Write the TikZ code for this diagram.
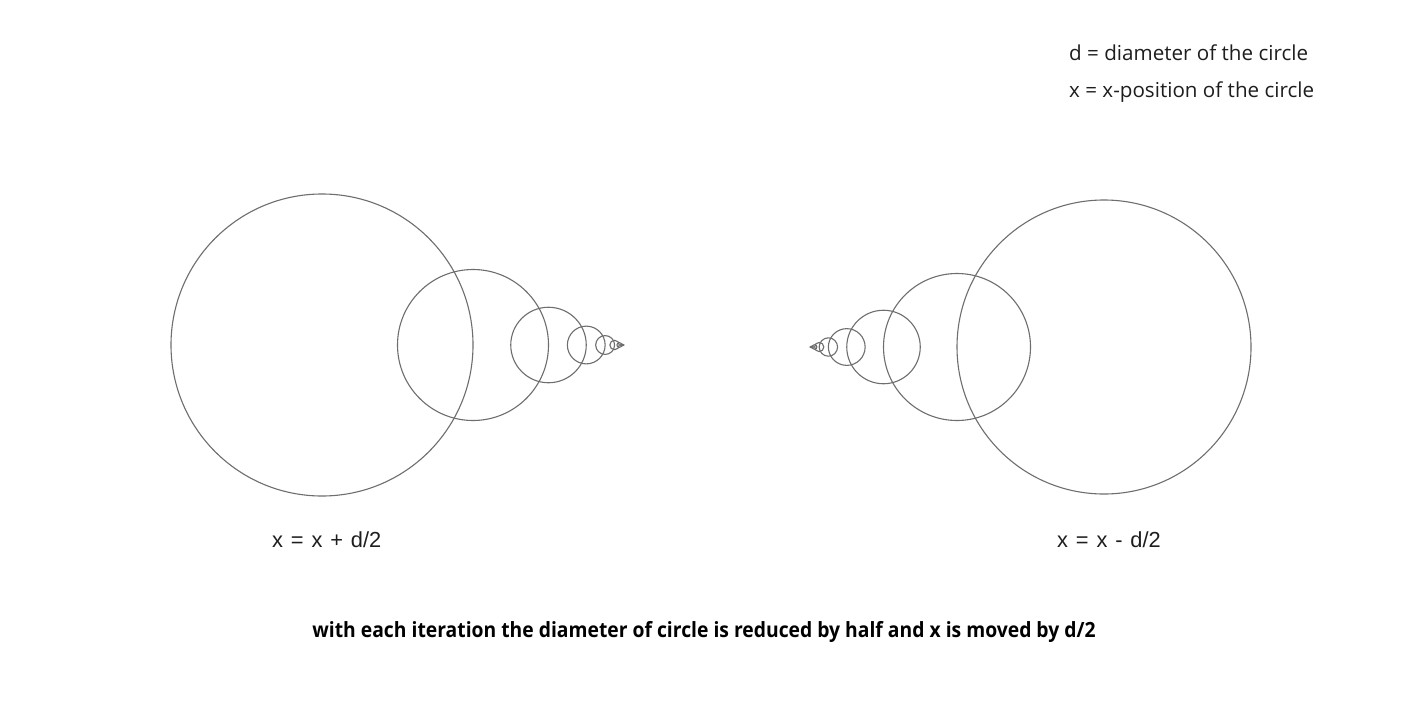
\documentclass[tikz,border=0pt]{standalone}
\usepackage{fontspec}
\setmainfont{Open Sans}
\newfontfamily\labfont[WordSpace=1.3]{Liberation Sans}
\newfontfamily\boldfont[FakeStretch=0.92]{Open Sans}
\definecolor{ringgray}{HTML}{6E6E6E}
\definecolor{inkdark}{HTML}{1E1E1E}
\tikzset{
  ring/.style={draw=ringgray, line width=1.1pt},
  legend/.style={anchor=base west, inner sep=0pt, text=inkdark, font=\fontsize{20.6}{24}\selectfont},
  formula/.style={anchor=base west, inner sep=0pt, text=inkdark, font=\labfont\fontsize{21.8}{24}\selectfont},
  caption/.style={anchor=base, inner sep=0pt, text=black, font=\boldfont\bfseries\fontsize{21}{24}\selectfont}
}
\begin{document}
\begin{tikzpicture}[x=1pt,y=-1pt]
\useasboundingbox[fill=white] (0,0) rectangle (1404,720);
% left chain: x = x + d/2
\foreach \n in {0,...,10}{
  \pgfmathsetmacro{\r}{151/2^\n}
  \pgfmathsetmacro{\cx}{322+302*(1-1/2^\n)}
  \draw[ring] (\cx,345) circle[radius=\r];
}
% right chain: x = x - d/2
\foreach \n in {0,...,10}{
  \pgfmathsetmacro{\r}{147/2^\n}
  \pgfmathsetmacro{\cx}{1104-294*(1-1/2^\n)}
  \draw[ring] (\cx,347) circle[radius=\r];
}
\node[legend] (lgd) at (1069,60) {d = diameter of the circle};
\node[legend] (lgx) at (1069,97) {x = x-position of the circle};
\node[formula] (fl) at (272,547) {x = x + d/2};
\node[formula] (fr) at (1057,547) {x = x - d/2};
\node[caption] (cap) at (704,637) {with each iteration the diameter of circle is reduced by half and x is moved by d/2};
\end{tikzpicture}
\end{document}
